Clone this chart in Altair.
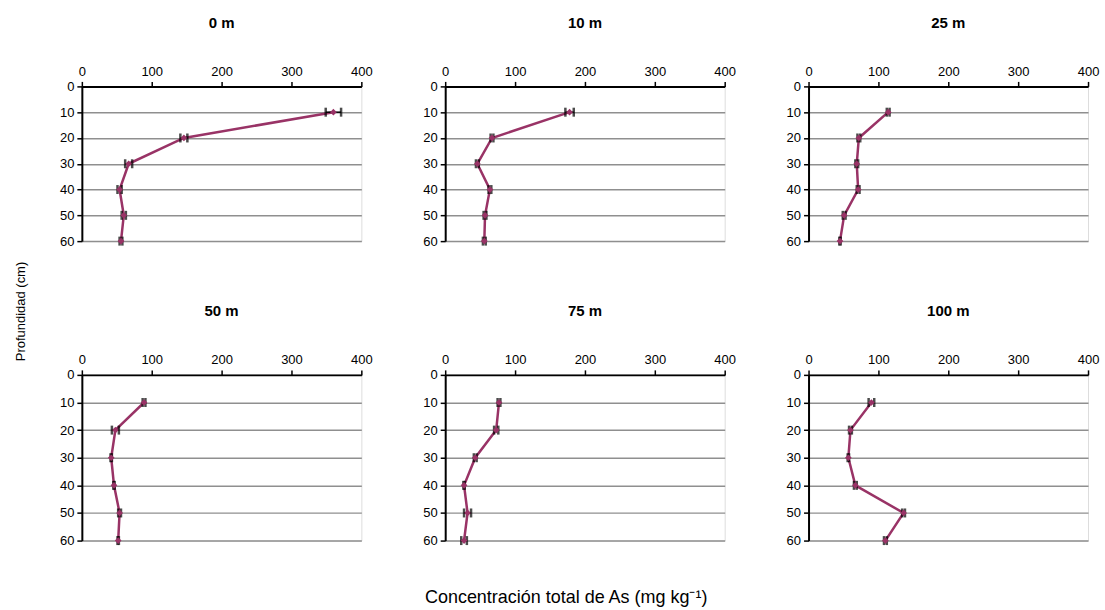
import altair as alt
import pandas as pd

depths = [10, 20, 30, 40, 50, 60]
panel_names = ["0 m", "10 m", "25 m", "50 m", "75 m", "100 m"]

conc_0 = [360, 146, 67, 54, 60, 56]
err_0 = [11, 5, 5, 3, 3, 2]
conc_10 = [178, 67, 46, 64, 57, 56]
err_10 = [6, 2, 2, 2, 2, 2]
conc_25 = [114, 72, 69, 71, 51, 45]
err_25 = [2, 2, 2, 2, 2, 1]
conc_50 = [89, 48, 42, 46, 54, 52]
err_50 = [2, 5, 1, 1, 2, 1]
conc_75 = [77, 73, 43, 27, 32, 27]
err_75 = [2, 3, 2, 1, 5, 4]
conc_100 = [90, 60, 57, 67, 136, 110]
err_100 = [4, 2, 1, 2, 2, 2]

all_conc = [conc_0, conc_10, conc_25, conc_50, conc_75, conc_100]
all_err = [err_0, err_10, err_25, err_50, err_75, err_100]

x_ticks = [0, 100, 200, 300, 400]
y_ticks = [0, 10, 20, 30, 40, 50, 60]

FONT = "Liberation Sans"
LINE = "#993366"


def panel(name, conc, err, h):
    df = pd.DataFrame({"depth": depths, "conc": conc, "err": err})
    base = alt.Chart(df).transform_calculate(
        lo="datum.conc - datum.err", hi="datum.conc + datum.err"
    )
    xs = alt.Scale(domain=[0, 400], nice=False, zero=True)
    ys = alt.Scale(domain=[0, 60], reverse=True, nice=False)
    xax = alt.Axis(orient="top", values=x_ticks, title=None, grid=False,
                   domainColor="black", domainWidth=2, tickColor="black",
                   tickSize=5, tickWidth=1.5, labelFontSize=13, labelFont=FONT,
                   labelColor="black", labelPadding=3, labelFlush=False)
    yax = alt.Axis(orient="left", values=y_ticks, title=None, grid=True,
                   gridColor="#8f8f8f", gridWidth=1.5, domainColor="black",
                   domainWidth=2, tickColor="black", tickSize=5, tickWidth=1.5,
                   labelFontSize=13, labelFont=FONT, labelColor="black",
                   labelPadding=3)
    x = alt.X("conc:Q", scale=xs, axis=xax)
    y = alt.Y("depth:Q", scale=ys, axis=yax)
    line = base.mark_line(color=LINE, strokeWidth=2.5).encode(x=x, y=y, order="depth:Q")
    rule = base.mark_rule(color="black", strokeWidth=1.5).encode(
        x=alt.X("lo:Q", scale=xs, axis=xax), x2="hi:Q", y=y)
    cap_lo = base.mark_tick(color="black", orient="vertical", size=9, thickness=2.5).encode(
        x=alt.X("lo:Q", scale=xs, axis=xax), y=y)
    cap_hi = base.mark_tick(color="black", orient="vertical", size=9, thickness=2.5).encode(
        x=alt.X("hi:Q", scale=xs, axis=xax), y=y)
    pts = base.mark_point(shape="diamond", filled=True, color=LINE, size=45, opacity=1).encode(x=x, y=y)
    return alt.layer(line, rule, cap_lo, cap_hi, pts).properties(
        width=280, height=h,
        title=alt.TitleParams(name, fontSize=15, font=FONT, fontWeight="bold",
                              color="black", offset=35, anchor="middle"),
    )


panels = [panel(panel_names[i], all_conc[i], all_err[i], 155 if i < 3 else 166)
          for i in range(6)]

inner = alt.concat(*panels, columns=3, spacing=alt.RowColnumber(row=134, column=84),
                   bounds="flush").properties(
    title=alt.TitleParams("Profundidad (cm)", orient="left", anchor="middle",
                          fontSize=13, font=FONT, fontWeight="normal", color="black",
                          offset=31, dx=-30)
)

chart = alt.vconcat(inner).properties(
    title=alt.TitleParams("Concentración total de As (mg kg⁻¹)", orient="bottom",
                          anchor="middle", fontSize=18, font=FONT, fontWeight="normal",
                          color="black", offset=41, dx=9),
    padding={"left": 15, "top": 14, "right": 5, "bottom": 5},
).configure_view(stroke="#8f8f8f", strokeWidth=1.5).configure(background="white")

chart.save("out.html", embed_options={"renderer": "svg", "actions": False})
